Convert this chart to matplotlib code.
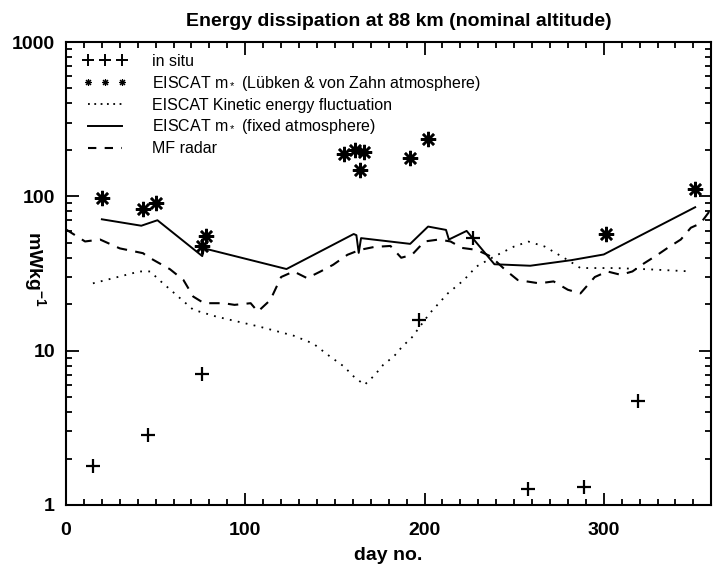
import numpy as np
import matplotlib
matplotlib.use('Agg')
from matplotlib import pyplot as plt
from matplotlib.lines import Line2D

plt.rcParams['font.family'] = ['Liberation Sans', 'DejaVu Sans']
plt.rcParams['mathtext.default'] = 'regular'

# in situ (rocket) values
insitu_day = [15, 46, 76, 197, 227, 258, 289, 319]
insitu_val = [1.79, 2.85, 7.1, 15.8, 53.7, 1.26, 1.31, 4.7]

# EISCAT m* (Luebken & von Zahn atmosphere)
lz_day = [20, 43, 50, 76, 78, 155, 161, 164, 166.5, 192, 202, 301, 351]
lz_val = [98, 83, 91, 48, 55, 187, 201, 149, 193, 177, 235, 57, 112]

# EISCAT kinetic energy fluctuation
ke_day = [15, 41, 47, 52, 71, 84, 108, 127, 138, 146, 155, 160.5, 166.5, 172,
          177, 183, 187.5, 193, 203, 213, 222, 229, 239, 250, 258, 267, 280,
          287, 306, 324, 349]
ke_val = [27.3, 32.6, 32.6, 28.7, 18.4, 16.6, 14.3, 12.5, 11.1, 9.4, 7.9, 6.8,
          6.0, 6.9, 8.1, 9.2, 10.6, 12.2, 17.5, 23.5, 28.7, 35.1, 40.8, 47.3,
          50.9, 47.3, 38.6, 34.3, 34.3, 33.7, 32.6]

# EISCAT m* (fixed atmosphere)
fx_day = [20, 42, 51, 76, 77, 123, 160.5, 162, 163.3, 164.6, 192, 202,
          212, 213.6, 223.5, 239, 259, 282, 300, 351]
fx_val = [71, 64.5, 70, 41, 46, 33.8, 57, 56, 43, 53.6, 49.2, 63.7,
          60.6, 52.5, 59.7, 36.3, 35.5, 38.6, 42, 85]

# MF radar
mf_day = [0, 10.6, 19, 30, 43, 45, 50, 58, 65.5, 71, 77, 88, 94, 103, 107,
          114, 120, 127, 134.5, 142, 149, 157, 164, 172, 181, 187, 193, 200,
          208, 214.5, 221, 229, 237, 245, 252, 257, 264, 272, 280, 287, 295,
          302, 309.5, 316, 322.5, 330, 335.6, 343, 348.6, 354, 359]
mf_val = [61, 51, 52.5, 46, 42.8, 41, 38, 33.7, 28.7, 22.4, 20.3, 20.3, 19.8,
          20.3, 17.9, 21.3, 30, 32.6, 29.5, 32.6, 36, 41.8, 45, 47, 47.7, 40,
          41.8, 51, 52.5, 51, 46.3, 45, 40.8, 33.4, 28.7, 28.1, 27.3, 28.1,
          24.8, 23.5, 30, 32.6, 31, 32.6, 36.8, 41.8, 46.3, 52.5, 62.6, 66.8, 80]

ast = (8, 2, 0)

fig = plt.figure(figsize=(7.13, 5.68), dpi=100)
ax = fig.add_axes([0.0926, 0.111, 0.905, 0.815])

ax.plot(insitu_day, insitu_val, ls='none', marker='+', ms=10, mew=1.6, color='black')
ax.plot(lz_day, lz_val, ls='none', marker=ast, ms=11, mew=1.8, color='black')
ax.plot(ke_day, ke_val, ls=(0, (1, 3.5)), lw=1.3, color='black')
ax.plot(fx_day, fx_val, ls='-', lw=1.4, color='black')
ax.plot(mf_day, mf_val, ls=(0, (5, 4)), lw=1.5, color='black')

ax.set_yscale('log')
ax.set_xlim(0, 360)
ax.set_ylim(1, 1000)

tickfont = dict(family=['Liberation Sans', 'DejaVu Sans'], weight='bold', size=14)
ax.set_xticks([0, 100, 200, 300])
ax.set_xticks(np.arange(0, 361, 10), minor=True)
ax.set_xticklabels(['0', '100', '200', '300'], fontdict=tickfont)
ax.set_yticks([1, 10, 100, 1000])
ax.set_yticklabels(['1', '10', '100', '1000'], fontdict=tickfont)
ax.tick_params(which='both', direction='in', top=True, right=True, width=1.3)
ax.tick_params(which='major', length=9)
ax.tick_params(axis='x', which='major', pad=12)
ax.tick_params(axis='y', which='major', pad=8)
ax.tick_params(which='minor', length=4.5)
for s in ax.spines.values():
    s.set_linewidth(1.5)

ax.set_xlabel('day no.', fontdict=tickfont, labelpad=6)
ax.set_ylabel('mWkg$^{-1}$', fontdict=tickfont, rotation=270, va='center')
ax.yaxis.set_label_coords(-0.048, 0.51)

fig.text(0.56, 0.963, 'Energy dissipation at 88 km (nominal altitude)',
         ha='center', va='center', fontsize=14, fontweight='bold')

handles = [
    Line2D([], [], ls='none', marker='+', ms=8, mew=1.4, color='black'),
    Line2D([], [], ls='none', marker=ast, ms=5, mew=0.8, color='black'),
    Line2D([], [], ls=(0, (1, 2.5)), lw=1.3, color='black'),
    Line2D([], [], ls='-', lw=1.4, color='black'),
    Line2D([], [], ls=(0, (4, 4)), lw=1.5, color='black'),
]
labels = ['in situ',
          'EISCAT m$_*$ (Lübken & von Zahn atmosphere)',
          'EISCAT Kinetic energy fluctuation',
          'EISCAT m$_*$ (fixed atmosphere)',
          'MF radar']
ax.legend(handles, labels, loc='upper left', bbox_to_anchor=(0.012, 0.995),
          frameon=False, numpoints=3, fontsize=11.5, handlelength=2.7,
          handletextpad=1.6, labelspacing=0.3, borderaxespad=0.2)

fig.savefig('out.png', dpi=100)
